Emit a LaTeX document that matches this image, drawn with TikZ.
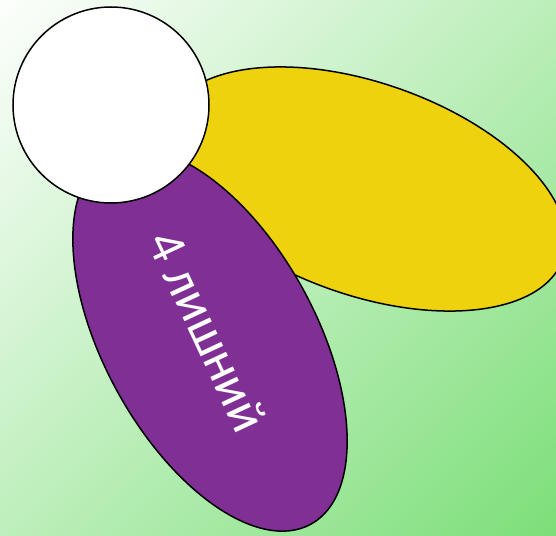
\documentclass[tikz,border=0pt]{standalone}
\usepackage{fontspec}
\newfontfamily\labelfont{Carlito}
\definecolor{bgG}{RGB}{122,222,118}
\definecolor{yellowF}{RGB}{237,210,13}
\definecolor{purpleF}{RGB}{128,48,148}
\pgfdeclareverticalshading{bgshade}{100bp}{color(0bp)=(bgG); color(13bp)=(bgG); color(87bp)=(white); color(100bp)=(white)}
\tikzset{
  blob/.style={draw=black, line width=1.5pt},
  lbl/.style={text=white, font=\labelfont\fontsize{52}{60}\selectfont}
}
\begin{document}
\begin{tikzpicture}[x=1pt,y=1pt]
\useasboundingbox (0,0) rectangle (556,-535);
\clip (0,0) rectangle (556,-535);
\shade[shading=bgshade, shading angle=45] (0,0) rectangle (556,-535);
\draw[blob, fill=yellowF, rotate around={-19.5:(365,-189)}] (365,-189) ellipse [x radius=210, y radius=106];
\draw[blob, fill=purpleF, rotate around={-61.3:(210,-340)}] (210,-340) ellipse [x radius=210, y radius=106];
\draw[blob, fill=white] (111,-105) circle [radius=98];
\node[lbl, rotate=-65] (label) at (208,-331) {4 лишний};
\end{tikzpicture}
\end{document}
